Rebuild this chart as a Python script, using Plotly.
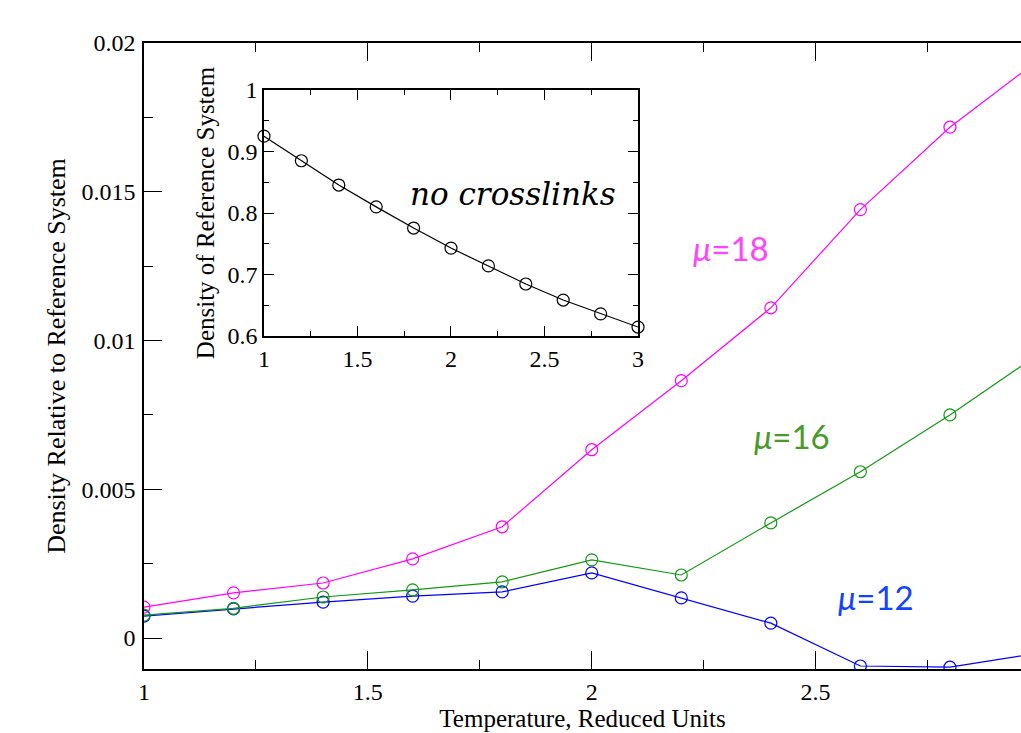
import plotly.graph_objects as go

temps = [1.0, 1.2, 1.4, 1.6, 1.8, 2.0, 2.2, 2.4, 2.6, 2.8, 3.0]
mu18 = [0.00104, 0.00152, 0.00185, 0.00266, 0.00374, 0.00633, 0.00865, 0.0111, 0.0144, 0.01717, 0.01946]
mu16 = [0.00077, 0.00100, 0.00138, 0.00162, 0.00189, 0.00263, 0.00212, 0.00387, 0.00559, 0.00750, 0.00956]
mu12 = [0.00074, 0.00098, 0.00121, 0.00141, 0.00155, 0.00219, 0.00135, 0.00050, -0.00094, -0.00098, -0.00050]
ref_density = [0.925, 0.885, 0.8455, 0.810, 0.7756, 0.743, 0.714, 0.6846, 0.6585, 0.636, 0.6146]

serif = "Liberation Serif, Times New Roman, serif"
sans = "Lato, Open Sans, sans-serif"

fig = go.Figure()

def add_series(y, color, xa="x", ya="y"):
    fig.add_trace(go.Scatter(
        x=temps, y=y, mode="lines+markers", xaxis=xa, yaxis=ya,
        line=dict(color=color, width=1.2),
        marker=dict(symbol="circle-open", size=12, color=color, line=dict(width=1.2, color=color)),
        showlegend=False, cliponaxis=False if xa == "x2" else True,
    ))

add_series(mu12, "#0000ff")
add_series(mu16, "#119911")
add_series(mu18, "#ff00ff")
add_series(ref_density, "#000000", "x2", "y2")

tickfont = dict(family=serif, size=24, color="black")
titlefont = dict(family=serif, size=25, color="black")

fig.update_layout(
    width=1021, height=733,
    margin=dict(l=144, r=0, t=43, b=64, autoexpand=False),
    paper_bgcolor="white", plot_bgcolor="white",
    xaxis=dict(
        range=[1, 2.9587], tickvals=[1, 1.5, 2, 2.5], ticktext=["1", "1.5", "2", "2.5"],
        ticks="inside", ticklen=18, tickwidth=1.2, tickcolor="black",
        minor=dict(ticks="inside", ticklen=9, tickwidth=1.2, tickcolor="black", dtick=0.25, tick0=1),
        showline=True, linecolor="black", linewidth=1.5, mirror="allticks",
        showgrid=False, zeroline=False, tickfont=tickfont, automargin=False,
        title=dict(text="Temperature, Reduced Units", font=titlefont, standoff=1),
    ),
    yaxis=dict(
        range=[-0.00104, 0.02], tickvals=[0, 0.005, 0.01, 0.015, 0.02],
        ticktext=["0", "0.005", "0.01", "0.015", "0.02"],
        ticks="inside", ticklen=18, tickwidth=1.2, tickcolor="black",
        minor=dict(ticks="inside", ticklen=9, tickwidth=1.2, tickcolor="black", dtick=0.0025, tick0=0),
        showline=True, linecolor="black", linewidth=1.5,
        showgrid=False, zeroline=False, tickfont=tickfont, ticklabelstandoff=2, automargin=False,
        title=dict(text="Density Relative to Reference System", font=dict(family=serif, size=26, color="black"), standoff=8),
    ),
    xaxis2=dict(
        domain=[0.1368, 0.5633], anchor="y2", range=[1, 3],
        tickvals=[1, 1.5, 2, 2.5, 3], ticktext=["1", "1.5", "2", "2.5", "3"],
        ticks="inside", ticklen=10, tickwidth=1.2, tickcolor="black",
        minor=dict(ticks="inside", ticklen=5, tickwidth=1.2, tickcolor="black", dtick=0.25, tick0=1),
        showline=True, linecolor="black", linewidth=1.5, mirror="allticks",
        showgrid=False, zeroline=False, tickfont=tickfont, automargin=False,
    ),
    yaxis2=dict(
        domain=[0.5319, 0.9249], anchor="x2", range=[0.6, 1.0],
        tickvals=[0.6, 0.7, 0.8, 0.9, 1.0], ticktext=["0.6", "0.7", "0.8", "0.9", "1"],
        ticks="inside", ticklen=10, tickwidth=1.2, tickcolor="black",
        minor=dict(ticks="inside", ticklen=5, tickwidth=1.2, tickcolor="black", dtick=0.05, tick0=0.6),
        showline=True, linecolor="black", linewidth=1.5, mirror="allticks",
        showgrid=False, zeroline=False, tickfont=tickfont, automargin=False,
        title=dict(text="Density of Reference System", font=titlefont, standoff=6),
    ),
)

fig.add_annotation(x=2.311, y=0.01312, xref="x", yref="y", text="<i>μ</i>=18", showarrow=False,
                   font=dict(family=sans, size=33, color="#ff44ff"))
fig.add_annotation(x=2.447, y=0.0068, xref="x", yref="y", text="<i>μ</i>=16", showarrow=False,
                   font=dict(family=sans, size=33, color="#4a9a2a"))
fig.add_annotation(x=2.635, y=0.00138, xref="x", yref="y", text="<i>μ</i>=12", showarrow=False,
                   font=dict(family=sans, size=33, color="#1144ff"))
fig.add_annotation(x=2.33, y=0.831, xref="x2", yref="y2", text="<i>no crosslinks</i>", showarrow=False,
                   font=dict(family="DejaVu Serif, serif", size=31, color="black"))

fig.write_html("out.html")
